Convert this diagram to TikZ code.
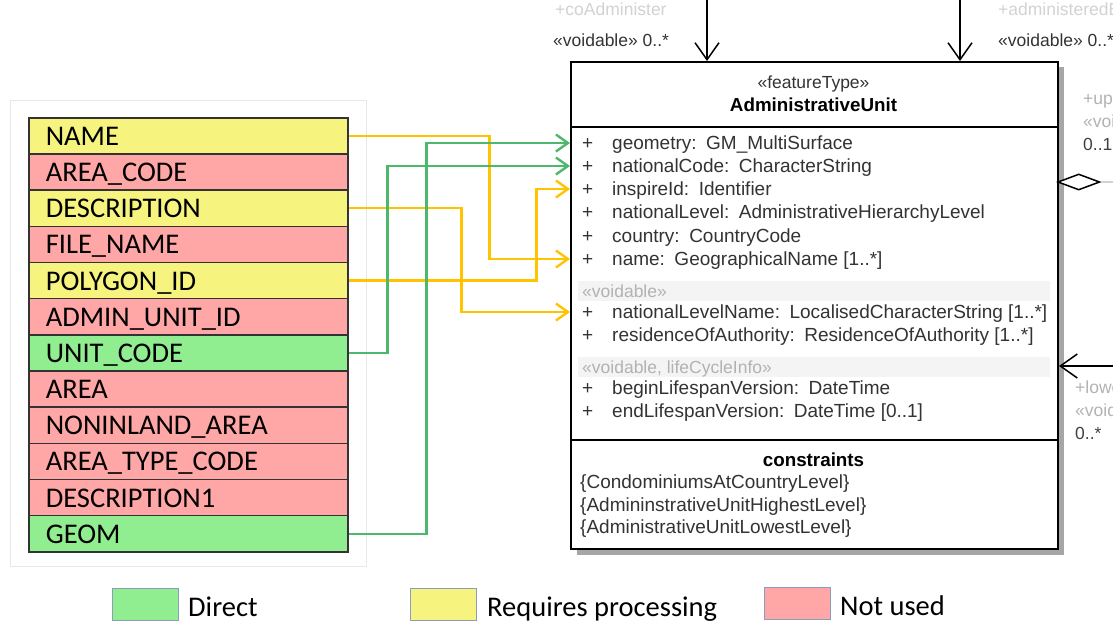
\documentclass[tikz,border=0pt]{standalone}
\usepackage{fontspec}
\setmainfont{Carlito}
\newfontfamily\umlfont{Liberation Sans}
\usetikzlibrary{arrows.meta, shapes.geometric}

\definecolor{rowgreen}{HTML}{90EE90}
\definecolor{rowyellow}{HTML}{F6F47E}
\definecolor{rowpink}{HTML}{FFA6A6}
\definecolor{linegreen}{HTML}{4DB86B}
\definecolor{lineyellow}{HTML}{FFC400}
\definecolor{legborder}{HTML}{8C9CBC}
\definecolor{umltext}{HTML}{333333}

\newcommand{\attrplus}{\makebox[30pt][l]{+}}

\tikzset{
  field/.style={draw=black!80, line width=1.6pt, anchor=north west, minimum height=36.17pt,
    text width=285pt, inner xsep=17pt, inner ysep=0pt, align=left,
    text height=19pt, text depth=0pt, font=\fontsize{28.5}{34}\selectfont},
  direct/.style={field, fill=rowgreen},
  process/.style={field, fill=rowyellow},
  unused/.style={field, fill=rowpink},
  legbox/.style={draw=legborder, line width=1pt, anchor=north west, minimum width=66pt, minimum height=32pt},
  legtext/.style={anchor=west, inner sep=0pt, text height=19pt, text depth=0pt, font=\fontsize{28.5}{34}\selectfont},
  umlfnt/.style={font=\umlfont\fontsize{19}{22}\selectfont},
  umlbold/.style={font=\umlfont\bfseries\fontsize{18.8}{22}\selectfont, text=black},
  attr/.style={umlfnt, anchor=west, inner xsep=12pt, inner ysep=0pt, text=umltext, text height=13.5pt, text depth=0pt},
  cstr/.style={umlfnt, anchor=west, inner sep=0pt, text=umltext, text height=13.5pt, text depth=0pt},
  note/.style={font=\umlfont\fontsize{17.5}{20}\selectfont, anchor=west, inner sep=0pt, text height=12.5pt, text depth=0pt},
  conn/.style={line width=2.4pt, -{Straight Barb[length=12pt,width=17pt]}},
  assoc/.style={line width=1.5pt, -{Straight Barb[length=17pt,width=24pt]}}
}

\begin{document}
\begin{tikzpicture}[x=1pt, y=-1pt]
\useasboundingbox (0,0) rectangle (1113,625);
\clip (0,0) rectangle (1113,625);

\draw[gray!18, line width=1pt] (10,100) rectangle (366,566);

\node[process] (name) at (28,117) {NAME};
\node[unused] (areacode) at (28,153.17) {AREA\_CODE};
\node[process] (descr) at (28,189.33) {DESCRIPTION};
\node[unused] (filename) at (28,225.5) {FILE\_NAME};
\node[process] (polygon) at (28,261.67) {POLYGON\_ID};
\node[unused] (adminunit) at (28,297.83) {ADMIN\_UNIT\_ID};
\node[direct] (unitcode) at (28,334) {UNIT\_CODE};
\node[unused] (area) at (28,370.17) {AREA};
\node[unused] (noninland) at (28,406.33) {NONINLAND\_AREA};
\node[unused] (areatype) at (28,442.5) {AREA\_TYPE\_CODE};
\node[unused] (descrone) at (28,478.67) {DESCRIPTION1};
\node[direct] (geom) at (28,514.83) {GEOM};

\fill[black!35] (577,67) rectangle (1064,555);
\node[draw, line width=2pt, fill=white, anchor=north west, minimum width=487pt, minimum height=487pt, inner sep=0pt] (uml) at (570,61) {};
\draw[line width=1.5pt] (570,127) -- (1057,127);
\draw[line width=2pt] (570,440) -- (1057,440);
\fill[gray!9] (578,281) rectangle (1050,301);
\fill[gray!9] (578,357) rectangle (1050,377);

\node[note, anchor=center, text=umltext] (stereo) at (813.5,82) {«featureType»};
\node[umlbold] (uname) at (813.5,105) {AdministrativeUnit};

\node[attr] (geometry) at (570,143) {\attrplus geometry:\enspace GM\_MultiSurface};
\node[attr] (natcode) at (570,166) {\attrplus nationalCode:\enspace CharacterString};
\node[attr] (inspire) at (570,189) {\attrplus inspireId:\enspace Identifier};
\node[attr] (natlevel) at (570,212) {\attrplus nationalLevel:\enspace AdministrativeHierarchyLevel};
\node[attr] (country) at (570,236) {\attrplus country:\enspace CountryCode};
\node[attr] (gname) at (570,259) {\attrplus name:\enspace GeographicalName [1..*]};
\node[note, text=gray!60] (voidable) at (582,291) {«voidable»};
\node[attr] (natlevelname) at (570,312) {\attrplus nationalLevelName:\enspace LocalisedCharacterString [1..*]};
\node[attr] (residence) at (570,335) {\attrplus residenceOfAuthority:\enspace ResidenceOfAuthority [1..*]};
\node[note, text=gray!60] (lifecycle) at (582,367) {«voidable, lifeCycleInfo»};
\node[attr] (beginlife) at (570,388) {\attrplus beginLifespanVersion:\enspace DateTime};
\node[attr] (endlife) at (570,411) {\attrplus endLifespanVersion:\enspace DateTime [0..1]};

\node[umlbold] (ctitle) at (813.5,460) {constraints};
\node[cstr] (condo) at (580,482) {\{CondominiumsAtCountryLevel\}};
\node[cstr] (highest) at (580,505) {\{AdmininstrativeUnitHighestLevel\}};
\node[cstr] (lowest) at (580,527) {\{AdministrativeUnitLowestLevel\}};

\draw[lineyellow, conn] (name.east) -- ++(141,0) |- (gname.west);
\draw[lineyellow, conn] (descr.east) -- ++(113,0) |- (natlevelname.west);
\draw[lineyellow, conn] (polygon.east) -- ++(188,0) |- (inspire.west);
\draw[linegreen, conn] (unitcode.east) -- ++(39,0) |- (natcode.west);
\draw[linegreen, conn] (geom.east) -- ++(78,0) |- (geometry.west);

\coordinate (cotop) at (707,-5);
\coordinate (adtop) at (960,-5);
\draw[assoc] (cotop) -- (cotop |- uml.north);
\draw[assoc] (adtop) -- (adtop |- uml.north);
\node[note, text=gray!35] (corole) at (555,9) {+coAdminister};
\node[note, text=black!80] (comult) at (553,40) {«voidable» 0..*};
\node[note, text=gray!35] (adrole) at (998,9) {+administeredBy};
\node[note, text=black!80] (admult) at (998,40) {«voidable» 0..*};

\node[diamond, draw, line width=1.5pt, fill=white, minimum width=42pt, minimum height=16pt, inner sep=0pt, anchor=west] (aggr) at (1057,182) {};
\coordinate (upend) at (1120,182);
\draw[gray!35, line width=1.5pt] (aggr.east) -- (upend);
\node[note, text=gray!60] (uprole) at (1083,98) {+upperLevelUnit};
\node[note, text=gray!60] (upvoid) at (1083,121) {«voidable»};
\node[note, text=black!75] (upmult) at (1083,144) {0..1};

\coordinate (lowend) at (1120,366);
\draw[assoc] (lowend) -- (lowend -| uml.east);
\node[note, text=gray!60] (lowrole) at (1075,387) {+lowerLevelUnit};
\node[note, text=gray!60] (lowvoid) at (1075,410) {«voidable»};
\node[note, text=black!75] (lowmult) at (1075,433) {0..*};

\node[legbox, fill=rowgreen] (legdirect) at (112,588) {};
\node[legtext] (legdirecttext) at (188,607) {Direct};
\node[legbox, fill=rowyellow] (legprocess) at (410,588) {};
\node[legtext] (legprocesstext) at (487,607) {Requires processing};
\node[legbox, fill=rowpink] (legunused) at (764,587) {};
\node[legtext] (legunusedtext) at (840,606) {Not used};
\end{tikzpicture}
\end{document}
